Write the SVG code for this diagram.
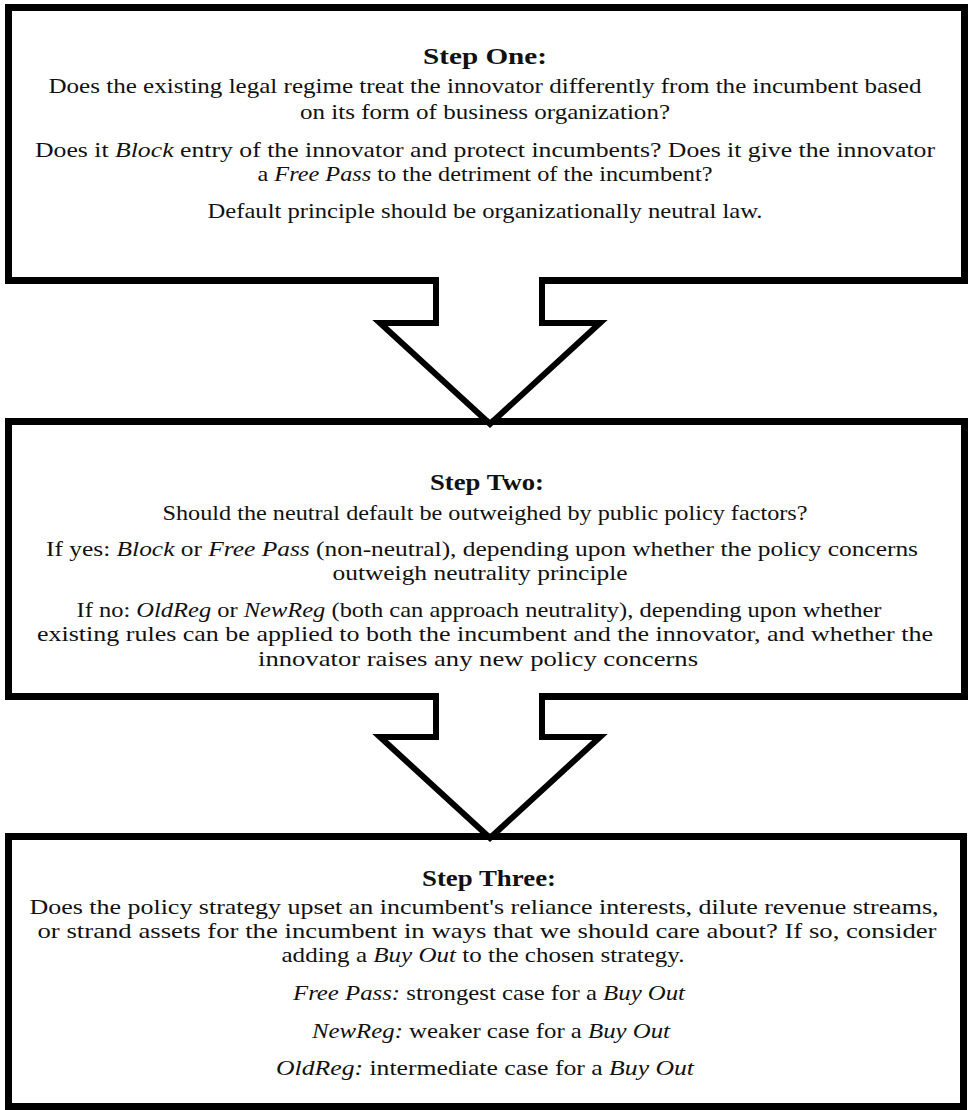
<svg xmlns="http://www.w3.org/2000/svg" width="968" height="1110" viewBox="0 0 968 1110">
<style>
.box{fill:#fff;stroke:#000;stroke-width:7}
.t{font-family:"Liberation Serif","Times New Roman",serif;font-size:22px;fill:#111;text-anchor:middle}
.h{font-family:"Liberation Serif","Times New Roman",serif;font-size:23px;font-weight:bold;fill:#111;text-anchor:middle}
.i{font-style:italic}
.arrow-fill{fill:#fff;stroke:none}
.arrow-line{fill:none;stroke:#000;stroke-width:6;stroke-linejoin:miter;stroke-miterlimit:10}
</style>
<rect width="968" height="1110" fill="#fff"/>
<g id="step-one">
<rect class="box" x="8.5" y="7.5" width="956" height="273"/>
<text class="h" x="485" y="64" textLength="124" lengthAdjust="spacingAndGlyphs">Step One:</text>
<text class="t" x="485" y="93" textLength="873" lengthAdjust="spacingAndGlyphs">Does the existing legal regime treat the innovator differently from the incumbent based</text>
<text class="t" x="485" y="119" textLength="370" lengthAdjust="spacingAndGlyphs">on its form of business organization?</text>
<text class="t" x="485" y="157" textLength="900" lengthAdjust="spacingAndGlyphs">Does it <tspan class="i">Block</tspan> entry of the innovator and protect incumbents? Does it give the innovator</text>
<text class="t" x="485" y="181" textLength="455" lengthAdjust="spacingAndGlyphs">a <tspan class="i">Free Pass</tspan> to the detriment of the incumbent?</text>
<text class="t" x="485" y="218" textLength="555" lengthAdjust="spacingAndGlyphs">Default principle should be organizationally neutral law.</text>
</g>
<g id="step-two">
<rect class="box" x="8.5" y="421.5" width="956" height="275"/>
<text class="h" x="487" y="490" textLength="114" lengthAdjust="spacingAndGlyphs">Step Two:</text>
<text class="t" x="485" y="520" textLength="645" lengthAdjust="spacingAndGlyphs">Should the neutral default be outweighed by public policy factors?</text>
<text class="t" x="482" y="556" textLength="872" lengthAdjust="spacingAndGlyphs">If yes: <tspan class="i">Block</tspan> or <tspan class="i">Free Pass</tspan> (non-neutral), depending upon whether the policy concerns</text>
<text class="t" x="480" y="580" textLength="295" lengthAdjust="spacingAndGlyphs">outweigh neutrality principle</text>
<text class="t" x="479" y="617" textLength="805" lengthAdjust="spacingAndGlyphs">If no: <tspan class="i">OldReg</tspan> or <tspan class="i">NewReg</tspan> (both can approach neutrality), depending upon whether</text>
<text class="t" x="485" y="641" textLength="896" lengthAdjust="spacingAndGlyphs">existing rules can be applied to both the incumbent and the innovator, and whether the</text>
<text class="t" x="478" y="666" textLength="440" lengthAdjust="spacingAndGlyphs">innovator raises any new policy concerns</text>
</g>
<g id="step-three">
<rect class="box" x="8.5" y="836.5" width="955" height="270"/>
<text class="h" x="489" y="886" textLength="134" lengthAdjust="spacingAndGlyphs">Step Three:</text>
<text class="t" x="484" y="914" textLength="909" lengthAdjust="spacingAndGlyphs">Does the policy strategy upset an incumbent's reliance interests, dilute revenue streams,</text>
<text class="t" x="487" y="938" textLength="899" lengthAdjust="spacingAndGlyphs">or strand assets for the incumbent in ways that we should care about? If so, consider</text>
<text class="t" x="483" y="962" textLength="403" lengthAdjust="spacingAndGlyphs">adding a <tspan class="i">Buy Out</tspan> to the chosen strategy.</text>
<text class="t" x="489" y="1000" textLength="392" lengthAdjust="spacingAndGlyphs"><tspan class="i">Free Pass:</tspan> strongest case for a <tspan class="i">Buy Out</tspan></text>
<text class="t" x="491" y="1038" textLength="358" lengthAdjust="spacingAndGlyphs"><tspan class="i">NewReg:</tspan> weaker case for a <tspan class="i">Buy Out</tspan></text>
<text class="t" x="485" y="1075" textLength="418" lengthAdjust="spacingAndGlyphs"><tspan class="i">OldReg:</tspan> intermediate case for a <tspan class="i">Buy Out</tspan></text>
</g>
<g id="connectors">
<g id="arrow-1-2">
<polygon class="arrow-fill" points="439,275 439,326 387,326 490,420 593,326 539,326 539,275"/>
<path class="arrow-line" d="M436,277 V323 H380 L490,424 L600,323 H542 V277"/>
</g>
<g id="arrow-2-3">
<polygon class="arrow-fill" points="439,691 439,740 387,740 490,834 593,740 539,740 539,691"/>
<path class="arrow-line" d="M436,693 V737 H380 L490,838 L600,737 H542 V693"/>
</g>
</g>
</svg>
